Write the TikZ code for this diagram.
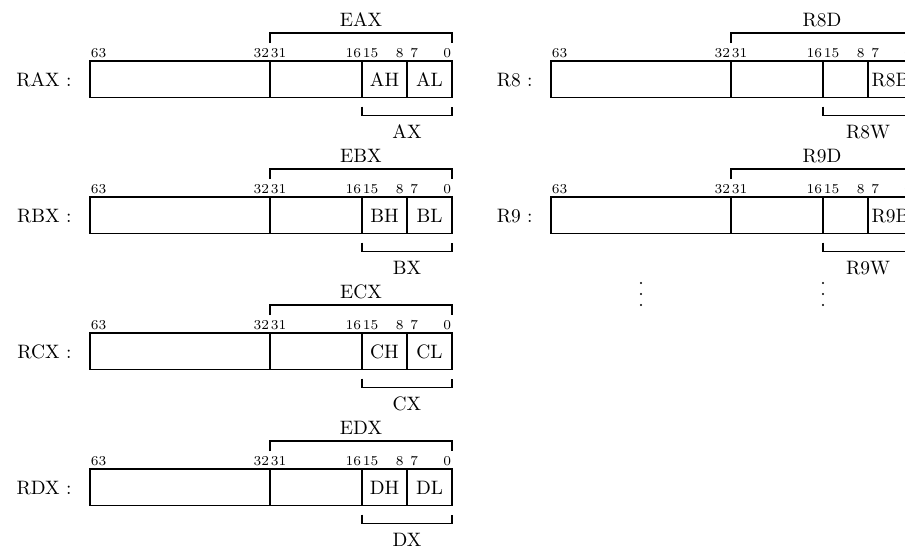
\documentclass[tikz,border=0pt]{standalone}
\begin{document}
\begin{tikzpicture}[x=0.515pt,y=-0.515pt,
  reg/.style={draw,line width=0.6pt},
  bit/.style={font=\scriptsize,inner sep=0.3pt},
  lbl/.style={inner sep=0pt}]
\useasboundingbox (0,0) rectangle (905,549);
\newcommand{\regbox}[8]{%
 \begin{scope}[shift={(#1,#2)}]
  \draw[reg] (90,0) rectangle (452,36.5);
  \draw[reg] (270,0) -- (270,36.5) (362,0) -- (362,36.5) (407,0) -- (407,36.5);
  \node[bit,anchor=base west] (#8b63) at (90,-4) {63};
  \node[bit,anchor=base east] (#8b32) at (270,-4) {32};
  \node[bit,anchor=base west] (#8b31) at (270,-4) {31};
  \node[bit,anchor=base east] (#8b16) at (362,-4) {16};
  \node[bit,anchor=base west] (#8b15) at (362,-4) {15};
  \node[bit,anchor=base east] (#8b8) at (404.5,-4) {8};
  \node[bit,anchor=base west] (#8b7) at (409.5,-4) {7};
  \node[bit,anchor=base east] (#8b0) at (452,-4) {0};
  \node[lbl,anchor=east] (#8name) at (72,18.6) {#3\ :};
  \draw[reg] (270,-18) -- (270,-28) -- (452,-28) -- (452,-18);
  \node[lbl,anchor=base] (#8e) at (361,-35) {#4};
  \draw[reg] (362,45.5) -- (362,54.5) -- (452,54.5) -- (452,45.5);
  \node[lbl,anchor=base] (#8x) at (407,77.5) {#5};
  \node[lbl] (#8h) at (384.5,18.6) {#6};
  \node[lbl] (#8l) at (429.5,18.6) {#7};
 \end{scope}}
\regbox{0}{61}{RAX}{EAX}{AX}{AH}{AL}{a}
\regbox{0}{197}{RBX}{EBX}{BX}{BH}{BL}{b}
\regbox{0}{333}{RCX}{ECX}{CX}{CH}{CL}{c}
\regbox{0}{469}{RDX}{EDX}{DX}{DH}{DL}{d}
\regbox{461}{61}{R8}{R8D}{R8W}{}{R8B}{r}
\regbox{461}{197}{R9}{R9D}{R9W}{}{R9B}{s}
\foreach \dx in {641,823}{
  \foreach \dy in {283,294,305}{
    \fill (\dx,\dy) circle (0.55pt);
  }
}
\end{tikzpicture}
\end{document}
